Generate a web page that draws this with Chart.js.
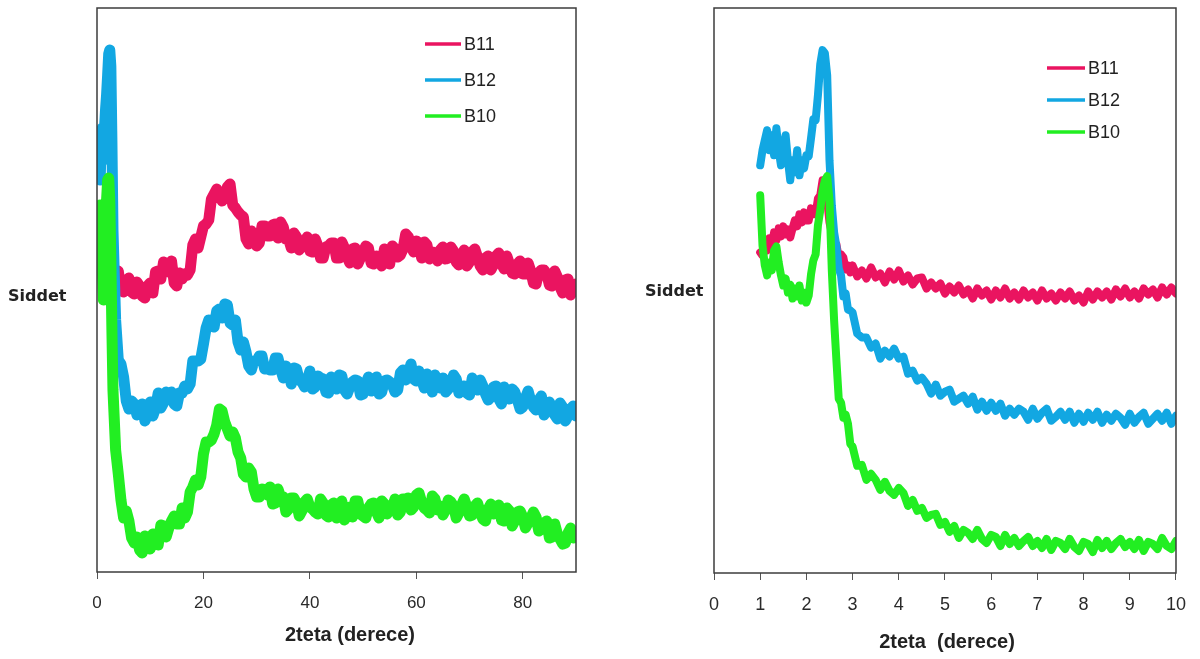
<!DOCTYPE html>
<html lang="tr">
<head>
<meta charset="UTF-8">
<title>XRD - B10, B11, B12</title>
<script src="https://cdn.jsdelivr.net/npm/chart.js@4.4.0/dist/chart.umd.min.js"></script>
<style>
    body {
        margin: 0;
        width: 1200px;
        height: 659px;
        overflow: hidden;
        position: relative;
        background: #fff;
        font-family: 'Liberation Sans', Arial, sans-serif;
    }
    .panel { position: absolute; top: 0; }
    .ylab {
        position: absolute;
        font-family: 'DejaVu Sans', Verdana, sans-serif;
        font-weight: bold;
        font-size: 16px;
        color: #222;
    }
    .xlab {
        position: absolute;
        transform: translateX(-50%);
        white-space: pre;
        font-weight: bold;
        font-size: 20px;
        line-height: 24px;
        color: #222;
    }
</style>
</head>
<body>

<canvas id="leftChart" class="panel" width="600" height="659" style="left:0"></canvas>
<canvas id="rightChart" class="panel" width="600" height="659" style="left:600px"></canvas>
<div class="ylab" style="left:8px; top:286px">Siddet</div>
<div class="ylab" style="left:645px; top:281px">Siddet</div>
<div class="xlab" style="left:350px; top:622px">2teta (derece)</div>
<div class="xlab" style="left:947px; top:629px">2teta  (derece)</div>

<script>
    // wide scan, 0 - 90 degrees
    const leftAngles = [0.6, 0.8, 1.0, 1.2, 1.4, 1.6, 1.8, 2.0, 2.2, 2.4, 2.6, 2.8, 3.0, 3.5,
        4, 4.5, 5, 5.5, 6, 6.5, 7, 7.5, 8, 8.5, 9, 9.5, 10, 10.5, 11, 11.5, 12, 12.5, 13, 13.5, 14, 14.5,
        15, 15.5, 16, 16.5, 17, 17.5, 18, 18.5, 19, 19.5, 20, 20.5, 21, 21.5, 22, 22.5, 23, 23.5, 24, 24.5,
        25, 25.5, 26, 26.5, 27, 27.5, 28, 28.5, 29, 29.5, 30, 30.5, 31, 31.5, 32, 32.5, 33, 33.5, 34, 34.5,
        35, 35.5, 36, 36.5, 37, 37.5, 38, 38.5, 39, 39.5, 40, 40.5, 41, 41.5, 42, 42.5, 43, 43.5, 44, 44.5,
        45, 45.5, 46, 46.5, 47, 47.5, 48, 48.5, 49, 49.5, 50, 50.5, 51, 51.5, 52, 52.5, 53, 53.5, 54, 54.5,
        55, 55.5, 56, 56.5, 57, 57.5, 58, 58.5, 59, 59.5, 60, 60.5, 61, 61.5, 62, 62.5, 63, 63.5, 64, 64.5,
        65, 65.5, 66, 66.5, 67, 67.5, 68, 68.5, 69, 69.5, 70, 70.5, 71, 71.5, 72, 72.5, 73, 73.5, 74, 74.5,
        75, 75.5, 76, 76.5, 77, 77.5, 78, 78.5, 79, 79.5, 80, 80.5, 81, 81.5, 82, 82.5, 83, 83.5, 84, 84.5,
        85, 85.5, 86, 86.5, 87, 87.5, 88, 88.5, 89, 89.5, 90];
    const leftB11 = [null, null, null, 340, 352, 362, 345, 332, 320, 312, 305, 300, 298, 296,
        301, 282, 280, 291, 294, 280, 278, 290, 286, 276, 274, 286, 289, 279, 300, 301, 293, 310, 304, 300, 311, 289,
        286, 299, 293, 298, 297, 302, 327, 333, 324, 335, 346, 348, 352, 373, 378, 383, 377, 371, 375, 385,
        388, 367, 364, 360, 357, 355, 333, 328, 341, 335, 326, 329, 346, 346, 336, 336, 347, 348, 334, 350,
        345, 333, 333, 324, 339, 335, 322, 327, 331, 335, 321, 320, 333, 326, 314, 314, 325, 326, 329, 329,
        314, 314, 330, 324, 315, 309, 323, 324, 308, 314, 320, 326, 324, 309, 308, 316, 312, 306, 323, 319,
        308, 326, 323, 315, 317, 323, 338, 335, 325, 320, 331, 329, 314, 330, 327, 313, 320, 316, 311, 322,
        325, 313, 314, 325, 321, 310, 307, 316, 322, 306, 310, 320, 323, 315, 306, 302, 314, 316, 302, 307,
        316, 319, 308, 303, 316, 308, 299, 298, 308, 311, 298, 298, 309, 301, 289, 288, 299, 302, 302, 298,
        287, 286, 301, 295, 285, 279, 292, 293, 277, 282, 288];
    const leftB12 = [392, 432, 444, 412, 442, 462, 477, 497, 518, 522, 506, 432, 342, 252,
        212, 208, 195, 171, 163, 171, 168, 157, 166, 168, 151, 157, 170, 156, 164, 179, 164, 169, 180, 177, 180, 168,
        166, 179, 179, 186, 183, 188, 211, 211, 211, 213, 228, 244, 252, 246, 245, 261, 263, 254, 268, 267,
        249, 247, 252, 230, 222, 230, 220, 206, 202, 211, 211, 216, 216, 203, 204, 202, 202, 214, 214, 203,
        194, 206, 202, 188, 204, 203, 192, 190, 185, 192, 201, 183, 185, 196, 194, 193, 180, 179, 195, 190,
        183, 197, 196, 182, 178, 185, 190, 192, 191, 177, 178, 188, 195, 181, 182, 195, 178, 180, 191, 192,
        190, 187, 180, 182, 199, 202, 192, 198, 208, 193, 191, 201, 192, 184, 198, 192, 180, 197, 191, 184,
        194, 180, 183, 189, 197, 193, 179, 182, 186, 179, 177, 194, 189, 182, 192, 186, 178, 172, 175, 185,
        186, 173, 168, 185, 179, 173, 183, 180, 172, 163, 165, 174, 181, 171, 165, 162, 172, 176, 157, 161,
        170, 165, 157, 153, 169, 165, 151, 156, 163, 166, 156];
    const leftB10 = [367, 342, 302, 272, 292, 332, 372, 392, 394, 372, 312, 242, 182, 122,
        98, 72, 54, 61, 51, 34, 29, 35, 22, 19, 36, 29, 23, 38, 36, 27, 47, 46, 35, 44, 51, 56,
        48, 48, 64, 54, 60, 80, 85, 92, 87, 95, 118, 130, 130, 132, 138, 147, 163, 161, 150, 143,
        136, 140, 134, 120, 114, 98, 95, 104, 100, 83, 75, 75, 83, 82, 77, 85, 68, 69, 83, 75,
        75, 60, 63, 74, 74, 69, 56, 61, 70, 73, 65, 63, 60, 58, 73, 69, 57, 55, 67, 69,
        54, 64, 71, 52, 58, 65, 55, 71, 71, 58, 56, 54, 64, 68, 69, 60, 54, 71, 68, 58,
        62, 65, 73, 57, 60, 73, 73, 74, 62, 65, 77, 79, 70, 64, 62, 59, 76, 73, 62, 66,
        57, 62, 72, 70, 66, 54, 59, 67, 73, 65, 56, 57, 66, 69, 60, 53, 51, 63, 68, 58,
        62, 67, 52, 51, 64, 61, 46, 51, 60, 61, 55, 44, 49, 54, 60, 55, 41, 43, 49, 51,
        34, 35, 48, 38, 33, 28, 29, 39, 44, 34, 35];
    const leftTicks = [0, 20, 40, 60, 80];

    // low angle scan, 1 - 10 degrees
    const rightAngles = [1.0, 1.05, 1.1, 1.15, 1.2, 1.25, 1.3, 1.35, 1.4, 1.45, 1.5, 1.55, 1.6, 1.65, 1.7,
        1.75, 1.8, 1.85, 1.9, 1.95, 2.0,
        2.05, 2.1, 2.15, 2.2, 2.25, 2.3, 2.35, 2.4, 2.45, 2.5, 2.55, 2.6, 2.65, 2.7, 2.75, 2.8, 2.85, 2.9, 2.95, 3.0,
        3.1, 3.2, 3.3, 3.4, 3.5, 3.6, 3.7, 3.8, 3.9, 4.0, 4.1, 4.2, 4.3, 4.4, 4.5, 4.6, 4.7, 4.8, 4.9, 5.0,
        5.1, 5.2, 5.3, 5.4, 5.5, 5.6, 5.7, 5.8, 5.9, 6.0, 6.1, 6.2, 6.3, 6.4, 6.5, 6.6, 6.7, 6.8, 6.9, 7.0,
        7.1, 7.2, 7.3, 7.4, 7.5, 7.6, 7.7, 7.8, 7.9, 8.0, 8.1, 8.2, 8.3, 8.4, 8.5, 8.6, 8.7, 8.8, 8.9, 9.0,
        9.1, 9.2, 9.3, 9.4, 9.5, 9.6, 9.7, 9.8, 9.9, 10.0];
    const rightB11 = [320, 317, 328, 322, 334, 328, 340, 332, 344, 336, 346, 338, 343, 335, 344,
        352, 346, 358, 350, 360, 352,
        352, 364, 358, 358, 374, 377, 392, 390, 372, 350, 339, 327, 328, 315, 318, 315, 303, 307, 300, 307,
        296, 302, 294, 305, 295, 299, 290, 301, 293, 302, 291, 297, 288, 294, 295, 284, 290, 284, 289, 279,
        286, 280, 287, 278, 283, 274, 284, 277, 282, 273, 282, 275, 284, 274, 280, 273, 282, 275, 280, 272,
        282, 274, 279, 272, 280, 274, 281, 272, 277, 270, 281, 273, 281, 275, 281, 273, 283, 276, 284, 275,
        281, 274, 284, 278, 283, 275, 285, 278, 285, 279];
    const rightB12 = [407, 422, 432, 442, 422, 437, 417, 444, 422, 407, 424, 437, 412, 392, 412,
        400, 422, 397, 412, 404, 417,
        416, 434, 453, 452, 477, 508, 522, 519, 497, 412, 367, 340, 326, 304, 297, 276, 279, 263, 262, 260,
        239, 235, 235, 225, 229, 214, 222, 216, 224, 214, 216, 199, 202, 192, 195, 189, 179, 188, 177, 181,
        183, 171, 174, 177, 169, 176, 163, 171, 162, 170, 162, 169, 157, 164, 158, 164, 161, 153, 164, 154,
        160, 164, 152, 156, 161, 153, 161, 150, 159, 151, 160, 153, 161, 150, 158, 152, 159, 155, 148, 159,
        150, 156, 160, 149, 154, 159, 152, 160, 149, 157];
    const rightB10 = [377, 327, 307, 297, 310, 302, 322, 326, 310, 297, 287, 294, 280, 288, 274,
        284, 276, 287, 272, 280, 270,
        277, 298, 312, 318, 347, 362, 382, 392, 396, 372, 302, 252, 212, 174, 170, 155, 158, 149, 129, 126,
        107, 108, 93, 99, 93, 83, 91, 82, 78, 85, 80, 67, 73, 62, 65, 55, 58, 59, 48, 51,
        41, 47, 35, 43, 40, 34, 43, 34, 30, 38, 36, 27, 38, 29, 35, 27, 32, 36, 27, 32,
        25, 34, 23, 32, 30, 24, 34, 26, 22, 31, 29, 21, 33, 25, 32, 24, 30, 34, 26, 31,
        24, 33, 22, 31, 29, 24, 35, 27, 24, 32];
    const rightTicks = [0, 1, 2, 3, 4, 5, 6, 7, 8, 9, 10];

    const seriesNames = ['B11', 'B12', 'B10'];
    const seriesColors = ['#ea1460', '#12a7e2', '#22ee22'];
    const drawOrder = [2, 1, 0];   // B10 on top, B11 underneath

    const toPoints = (xs, ys) => xs.map((x, i) => ({x: x, y: ys[i]}));

    // box around the plot area
    const framePlugin = {
        id: 'frame',
        afterDraw(chart) {
            const {ctx, chartArea: a} = chart;
            ctx.save();
            ctx.strokeStyle = '#3c3c3c';
            ctx.lineWidth = 1.5;
            ctx.strokeRect(a.left, a.top, a.right - a.left, a.bottom - a.top);
            ctx.restore();
        }
    };

    // small legend drawn inside the plot
    const seriesKey = {
        id: 'seriesKey',
        afterDraw(chart, args, o) {
            const ctx = chart.ctx;
            ctx.save();
            ctx.font = '18px "Liberation Sans", Arial, sans-serif';
            ctx.textBaseline = 'middle';
            chart.data.datasets.forEach((ds, i) => {
                const y = o.y + i * o.gap;
                ctx.strokeStyle = ds.borderColor;
                ctx.lineWidth = 3.5;
                ctx.beginPath();
                ctx.moveTo(o.x, y);
                ctx.lineTo(o.x + o.len, y);
                ctx.stroke();
                ctx.fillStyle = '#222';
                ctx.fillText(ds.label, o.x + o.len + 3, y + 1);
            });
            ctx.restore();
        }
    };

    function makeChart(id, c) {
        const datasets = c.values.map((vals, i) => ({
            label: seriesNames[i],
            data: toPoints(c.angles, vals),
            borderColor: seriesColors[i],
            borderWidth: c.lineWidth,
            borderJoinStyle: 'round',
            borderCapStyle: 'round',
            pointRadius: 0,
            tension: 0,
            showLine: true,
            order: drawOrder[i]
        }));

        return new Chart(document.getElementById(id), {
            type: 'scatter',
            data: {datasets},
            plugins: [framePlugin, seriesKey],
            options: {
                responsive: false,
                animation: false,
                layout: {padding: {left: c.padLeft, right: c.padRight, top: 8, bottom: 0}},
                plugins: {
                    legend: {display: false},
                    tooltip: {enabled: false},
                    seriesKey: c.key
                },
                scales: {
                    x: {
                        type: 'linear',
                        min: 0,
                        max: c.xMax,
                        afterBuildTicks: s => { s.ticks = c.ticks.map(v => ({value: v})); },
                        afterFit: s => { s.height = c.axisHeight; },
                        ticks: {
                            color: '#2a2a2a',
                            padding: 14,
                            maxRotation: 0,
                            autoSkip: false,
                            font: {family: "'Liberation Sans Narrow', 'Liberation Sans', Arial, sans-serif", size: c.tickSize}
                        },
                        grid: {display: true, drawOnChartArea: false, drawTicks: true, tickLength: 7, color: '#555'},
                        border: {display: false},
                        title: {display: false}
                    },
                    y: {display: false, min: 0, max: 564}
                }
            }
        });
    }

    makeChart('leftChart', {
        angles: leftAngles,
        values: [leftB11, leftB12, leftB10],
        xMax: 90,
        ticks: leftTicks,
        lineWidth: 11,
        padLeft: 97,
        padRight: 24,
        axisHeight: 87,
        tickSize: 17,
        key: {x: 425, y: 44, gap: 36, len: 36}
    });

    makeChart('rightChart', {
        angles: rightAngles,
        values: [rightB11, rightB12, rightB10],
        xMax: 10,
        ticks: rightTicks,
        lineWidth: 8,
        padLeft: 114,
        padRight: 21,
        axisHeight: 86,
        tickSize: 18,
        key: {x: 447, y: 68, gap: 32, len: 38}
    });
</script>
</body>
</html>
